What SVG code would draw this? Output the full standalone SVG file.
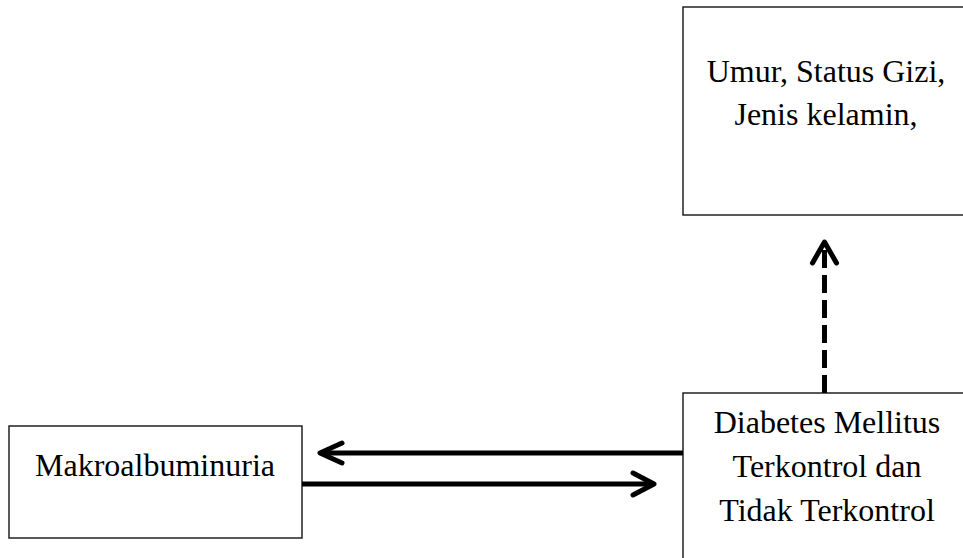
<svg xmlns="http://www.w3.org/2000/svg" width="963" height="558" viewBox="0 0 963 558">
<style>
.box{fill:#fff;stroke:#222;stroke-width:1.5}
.t{font-family:"Liberation Serif","Times New Roman",serif;font-size:32px;fill:#000;text-anchor:middle}
.ln{fill:none;stroke:#000;stroke-width:5}
.hd{fill:none;stroke:#000;stroke-width:5;stroke-linecap:round;stroke-linejoin:round}
</style>
<rect width="963" height="558" fill="#fff"/>
<g id="faktor">
<rect class="box" x="683" y="7" width="290" height="208"/>
<text class="t" x="826" y="82">Umur, Status Gizi,</text>
<text class="t" x="826" y="125">Jenis kelamin,</text>
</g>
<g id="makroalbuminuria">
<rect class="box" x="9" y="426" width="293" height="112"/>
<text class="t" x="155" y="476">Makroalbuminuria</text>
</g>
<g id="diabetes">
<rect class="box" x="683" y="393" width="290" height="180"/>
<text class="t" x="827" y="433">Diabetes Mellitus</text>
<text class="t" x="827" y="477">Terkontrol dan</text>
<text class="t" x="827" y="521">Tidak Terkontrol</text>
</g>
<g id="connectors">
<path class="ln" d="M824.5 393 V245" stroke-dasharray="18 7"/>
<path class="hd" d="M812.5 263 L824.5 242 L836.5 263"/>
<path class="ln" d="M683 453 H321"/>
<path class="hd" d="M342 443 L320 453 L342 463"/>
<path class="ln" d="M302 484 H652"/>
<path class="hd" d="M633 473 L654 484 L633 495"/>
</g>
</svg>
